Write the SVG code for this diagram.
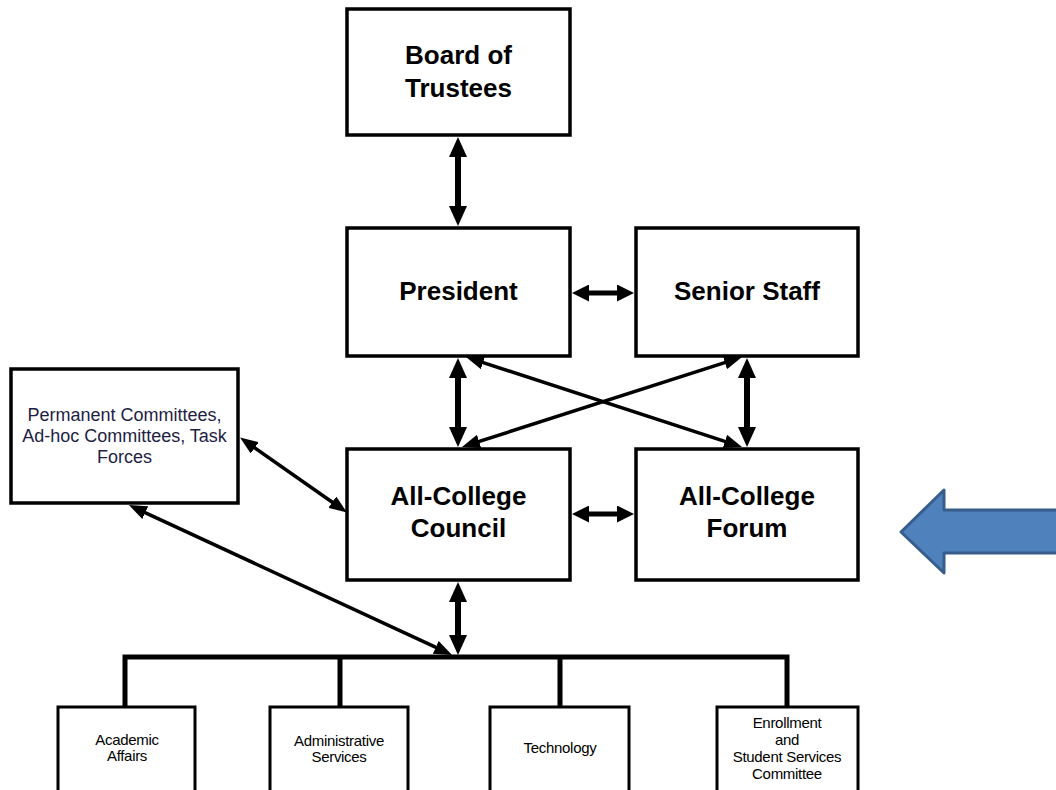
<svg xmlns="http://www.w3.org/2000/svg" width="1056" height="790" viewBox="0 0 1056 790">
<style>
.box{fill:#fff;stroke:#000;stroke-width:3.5}
.sbox{fill:#fff;stroke:#000;stroke-width:3}
.big{font-family:"Liberation Sans",Arial,sans-serif;font-weight:bold;font-size:26px;fill:#000;text-anchor:middle}
.mid{font-family:"Liberation Sans",Arial,sans-serif;font-size:18px;fill:#1e1e44;text-anchor:middle}
.sm{font-family:"Liberation Sans",Arial,sans-serif;font-size:15px;fill:#000;text-anchor:middle;letter-spacing:-0.3px}
.c1{stroke:#000;stroke-width:6;fill:none}
.c2{stroke:#000;stroke-width:5;fill:none}
.c3{stroke:#000;stroke-width:3.5;fill:none}
</style>
<defs>
<marker id="hBig" viewBox="0 0 20 18" refX="8" refY="9" markerWidth="20" markerHeight="18" markerUnits="userSpaceOnUse" orient="auto-start-reverse"><path d="M0,0 L20,9 L0,18 Z" fill="#000"/></marker>
<marker id="hSmall" viewBox="0 0 17 17" refX="7" refY="8.5" markerWidth="17" markerHeight="17" markerUnits="userSpaceOnUse" orient="auto-start-reverse"><path d="M0,0 L17,8.5 L0,17 Z" fill="#000"/></marker>
<marker id="hThin" viewBox="0 0 18 14" refX="8" refY="7" markerWidth="18" markerHeight="14" markerUnits="userSpaceOnUse" orient="auto-start-reverse"><path d="M0,0 L18,7 L0,14 Z" fill="#000"/></marker>
</defs>
<rect width="1056" height="790" fill="#fff"/>

<g id="connectors">
<line class="c1" x1="458" y1="149" x2="458" y2="214" marker-start="url(#hBig)" marker-end="url(#hBig)"/>
<line class="c2" x1="582" y1="293" x2="624" y2="293" marker-start="url(#hSmall)" marker-end="url(#hSmall)"/>
<line class="c1" x1="458" y1="370" x2="458" y2="435" marker-start="url(#hBig)" marker-end="url(#hBig)"/>
<line class="c1" x1="747" y1="370" x2="747" y2="435" marker-start="url(#hBig)" marker-end="url(#hBig)"/>
<line class="c3" x1="475.5" y1="360.1" x2="732.5" y2="443.9" marker-start="url(#hThin)" marker-end="url(#hThin)"/>
<line class="c3" x1="471.5" y1="443.9" x2="732.5" y2="360.1" marker-start="url(#hThin)" marker-end="url(#hThin)"/>
<line class="c2" x1="582" y1="514" x2="624" y2="514" marker-start="url(#hSmall)" marker-end="url(#hSmall)"/>
<line class="c3" x1="248.2" y1="443.2" x2="338.8" y2="506.8" marker-start="url(#hThin)" marker-end="url(#hThin)"/>
<line class="c3" x1="138" y1="509.3" x2="443" y2="650.7" marker-start="url(#hThin)" marker-end="url(#hThin)"/>
<line class="c1" x1="458" y1="594" x2="458" y2="643" marker-start="url(#hBig)" marker-end="url(#hBig)"/>
<path class="c2" d="M125,707 V657 H787 V707 M340,657 V707 M560,657 V707"/>
</g>

<g id="board"><rect class="box" x="347" y="9" width="223" height="126"/>
<text class="big" x="458.5" y="64">Board of</text><text class="big" x="458.5" y="97">Trustees</text></g>

<g id="president"><rect class="box" x="347" y="228" width="223" height="128"/>
<text class="big" x="458.5" y="300">President</text></g>

<g id="senior-staff"><rect class="box" x="636" y="228" width="222" height="128"/>
<text class="big" x="747" y="300">Senior Staff</text></g>

<g id="permanent"><rect class="box" x="11" y="369" width="227" height="134"/>
<text class="mid" x="124.5" y="421">Permanent Committees,</text>
<text class="mid" x="124.5" y="442">Ad-hoc Committees, Task</text>
<text class="mid" x="124.5" y="463">Forces</text></g>

<g id="council"><rect class="box" x="347" y="449" width="223" height="131"/>
<text class="big" x="458.5" y="505">All-College</text><text class="big" x="458.5" y="537">Council</text></g>

<g id="forum"><rect class="box" x="636" y="449" width="222" height="131"/>
<text class="big" x="747" y="505">All-College</text><text class="big" x="747" y="537">Forum</text></g>

<g id="academic"><rect class="sbox" x="58" y="707" width="137" height="100"/>
<text class="sm" x="127" y="745">Academic</text><text class="sm" x="127" y="761">Affairs</text></g>

<g id="administrative"><rect class="sbox" x="270" y="707" width="138" height="100"/>
<text class="sm" x="339" y="746">Administrative</text><text class="sm" x="339" y="762">Services</text></g>

<g id="technology"><rect class="sbox" x="490" y="707" width="139" height="100"/>
<text class="sm" x="560" y="753">Technology</text></g>

<g id="enrollment"><rect class="sbox" x="717" y="707" width="141" height="100"/>
<text class="sm" x="787" y="728">Enrollment</text><text class="sm" x="787" y="745">and</text>
<text class="sm" x="787" y="762">Student Services</text><text class="sm" x="787" y="779">Committee</text></g>

<g id="blue-arrow"><polygon points="901,532 944,490 944,510 1058,510 1058,553 944,553 944,573" fill="#4f81bd" stroke="#385d8a" stroke-width="3" stroke-linejoin="round"/></g>
</svg>
